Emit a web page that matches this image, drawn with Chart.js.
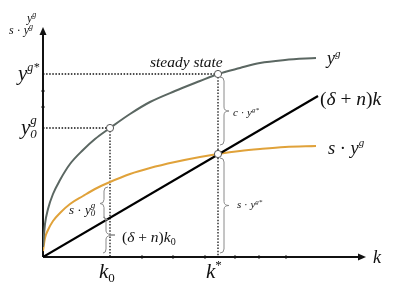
<!DOCTYPE html>
<html>
<head>
<meta charset="utf-8">
<script src="https://cdn.jsdelivr.net/npm/chart.js@4"></script>
<style>
  html, body { margin: 0; padding: 0; background: #fff; }
  canvas { display: block; }
</style>
</head>
<body>
<canvas id="solow" width="400" height="293"></canvas>
<script>
// capital per worker k and the output curves
const kOut = [0, 2, 5, 10, 17, 27, 40, 52, 67, 87, 107, 132, 157, 175, 197, 217, 242, 273]
const yOut = [10, 33, 48, 63, 77, 93, 107, 118, 129, 143, 155, 166, 176, 183, 189, 194, 197, 199]
const kSav = [0, 2, 5, 10, 17, 27, 40, 52, 67, 87, 107, 132, 157, 175, 197, 217, 242, 273]
const ySav = [6, 19, 27, 36, 44, 53, 61, 68, 75, 83, 89, 95, 100, 103, 106, 108, 110, 111]
const kLine = [0, 275]
const yLine = [0, 161]

// marked values
const k0 = 67
const kStar = 175
const y0 = 129
const yStar = 183
const syStar = 103
const sy0 = 75
const dk0 = 39

// little marks on the axes
const xMarks = [100, 131, 163, 193, 217, 244]
const yMarks = [151, 167]

const kMax = 322
const yMax = 229

const GREEN = '#5b6762'
const ORANGE = '#e0a23a'
const FONT = '"Liberation Serif", "DejaVu Serif", serif'

function pts(xs, ys) {
  return xs.map((x, i) => ({ x: x, y: ys[i] }))
}

function dotted(data) {
  return {
    data: data, showLine: true, borderColor: '#111', borderWidth: 1.3,
    borderDash: [1.5, 1.6], pointRadius: 0, order: 5
  }
}

// draw a row of text pieces, left to right
function run(ctx, x, y, parts) {
  for (const p of parts) {
    ctx.font = (p.i ? 'italic ' : '') + p.s + 'px ' + FONT
    if (p.stack) {
      // sub and sup at same x
      ctx.fillText(p.sub, x, y + p.dsub)
      const w1 = ctx.measureText(p.sub).width
      ctx.fillText(p.sup, x, y + p.dsup)
      x += Math.max(w1, ctx.measureText(p.sup).width)
    } else {
      ctx.fillText(p.t, x, y + (p.dy || 0))
      x += ctx.measureText(p.t).width
    }
  }
  return x
}

// vertical curly brace: ends at x, spine at x+s, tip at x+t
function brace(ctx, x, y1, y2, s, t) {
  const ym = (y1 + y2) / 2
  const r = 4
  ctx.beginPath()
  ctx.moveTo(x, y1)
  ctx.quadraticCurveTo(x + s, y1, x + s, y1 + r)
  ctx.lineTo(x + s, ym - r)
  ctx.quadraticCurveTo(x + s, ym, x + t, ym)
  ctx.quadraticCurveTo(x + s, ym, x + s, ym + r)
  ctx.lineTo(x + s, y2 - r)
  ctx.quadraticCurveTo(x + s, y2, x, y2)
  ctx.stroke()
}

const decor = {
  id: 'decor',
  beforeDatasetsDraw(chart) {
    const ctx = chart.ctx
    const xs = chart.scales.x
    const ys = chart.scales.y
    const ox = xs.getPixelForValue(0)
    const oy = ys.getPixelForValue(0)
    const right = xs.getPixelForValue(kMax)
    const top = ys.getPixelForValue(yMax)
    ctx.save()
    ctx.strokeStyle = '#111'
    ctx.fillStyle = '#111'
    ctx.lineWidth = 2
    ctx.beginPath()
    ctx.moveTo(ox, oy)
    ctx.lineTo(right - 4, oy)
    ctx.moveTo(ox, oy)
    ctx.lineTo(ox, top + 4)
    ctx.stroke()
    // arrow heads
    ctx.beginPath()
    ctx.moveTo(right + 1, oy)
    ctx.lineTo(right - 7, oy - 3.5)
    ctx.lineTo(right - 7, oy + 3.5)
    ctx.closePath()
    ctx.fill()
    ctx.beginPath()
    ctx.moveTo(ox, top - 1)
    ctx.lineTo(ox - 3.5, top + 7)
    ctx.lineTo(ox + 3.5, top + 7)
    ctx.closePath()
    ctx.fill()
    // small marks
    for (const v of xMarks) {
      const px = xs.getPixelForValue(v)
      ctx.beginPath()
      ctx.moveTo(px + 2, oy)
      ctx.lineTo(px - 1.5, oy - 2)
      ctx.lineTo(px - 1.5, oy + 2)
      ctx.closePath()
      ctx.fill()
    }
    for (const v of yMarks) {
      const py = ys.getPixelForValue(v)
      ctx.beginPath()
      ctx.moveTo(ox, py - 2)
      ctx.lineTo(ox - 2, py + 1.5)
      ctx.lineTo(ox + 2, py + 1.5)
      ctx.closePath()
      ctx.fill()
    }
    ctx.restore()
  },
  afterDatasetsDraw(chart) {
    const ctx = chart.ctx
    const xs = chart.scales.x
    const ys = chart.scales.y
    const X = v => xs.getPixelForValue(v)
    const Y = v => ys.getPixelForValue(v)
    ctx.save()

    // braces
    ctx.strokeStyle = '#8a8a8a'
    ctx.lineWidth = 1
    brace(ctx, X(kStar) + 2, Y(yStar) + 3, Y(syStar) - 9, 4, 9)
    brace(ctx, X(kStar) + 2, Y(syStar) + 4, Y(0) - 4, 4, 9)
    brace(ctx, X(k0) - 2, Y(sy0) + 5, Y(dk0) + 2, -4, -8)
    brace(ctx, X(k0) - 7, Y(dk0) - 1, Y(0) - 4, 3, 12)

    // text
    ctx.fillStyle = '#111'
    ctx.textBaseline = 'alphabetic'
    run(ctx, 27, 22, [{ t: 'y', s: 12, i: true }, { t: 'g', s: 8, i: true, dy: -5 }])
    run(ctx, 9, 34, [{ t: 's', s: 12, i: true }, { t: ' · ', s: 12 },
      { t: 'y', s: 12, i: true }, { t: 'g', s: 8, i: true, dy: -5 }])
    run(ctx, 18, Y(yStar) + 6, [{ t: 'y', s: 21, i: true }, { t: 'g*', s: 12, i: true, dy: -9 }])
    run(ctx, 21, Y(y0) + 6, [{ t: 'y', s: 21, i: true },
      { stack: true, sub: '0', sup: 'g', s: 13, i: true, dsub: 4, dsup: -10 }])
    run(ctx, X(k0) - 11, 278, [{ t: 'k', s: 21, i: true }, { t: '0', s: 13, dy: 4 }])
    run(ctx, X(kStar) - 12, 278, [{ t: 'k', s: 21, i: true }, { t: '*', s: 13, dy: -9 }])
    run(ctx, 373, 263, [{ t: 'k', s: 18, i: true }])
    run(ctx, 150, 67, [{ t: 'steady state', s: 15.5, i: true }])
    run(ctx, 327, 64, [{ t: 'y', s: 18, i: true }, { t: 'g', s: 11, i: true, dy: -7 }])
    run(ctx, 320, 105, [{ t: '(', s: 19.5 }, { t: 'δ', s: 19.5, i: true }, { t: ' + ', s: 19.5 },
      { t: 'n', s: 19.5, i: true }, { t: ')', s: 19.5 }, { t: 'k', s: 19.5, i: true }])
    run(ctx, 328, 154, [{ t: 's', s: 18.5, i: true }, { t: ' · ', s: 18.5 },
      { t: 'y', s: 18.5, i: true }, { t: 'g', s: 11, i: true, dy: -8 }])
    run(ctx, 233, 116, [{ t: 'c', s: 11, i: true }, { t: ' · ', s: 11 },
      { t: 'y', s: 11, i: true }, { t: 'g*', s: 7, i: true, dy: -4 }])
    run(ctx, 237, 208, [{ t: 's', s: 11, i: true }, { t: ' · ', s: 11 },
      { t: 'y', s: 11, i: true }, { t: 'g*', s: 7, i: true, dy: -4 }])
    run(ctx, 69, 214, [{ t: 's', s: 13, i: true }, { t: ' · ', s: 13 },
      { t: 'y', s: 13, i: true }, { stack: true, sub: '0', sup: 'g', s: 9, i: true, dsub: 2, dsup: -6 }])
    run(ctx, 122, 242, [{ t: '(', s: 15.5 }, { t: 'δ', s: 15.5, i: true }, { t: ' + ', s: 15.5 },
      { t: 'n', s: 15.5, i: true }, { t: ')', s: 15.5 }, { t: 'k', s: 15.5, i: true },
      { t: '0', s: 10, dy: 3 }])
    ctx.restore()
  }
}

new Chart(document.getElementById('solow'), {
  type: 'scatter',
  data: {
    datasets: [
      {
        data: [{ x: k0, y: y0 }, { x: kStar, y: yStar }, { x: kStar, y: syStar }],
        pointRadius: 3.6, pointBackgroundColor: '#fff', pointBorderColor: '#555',
        pointBorderWidth: 1, order: 0
      },
      {
        data: pts(kOut, yOut), showLine: true, borderColor: GREEN, borderWidth: 2,
        pointRadius: 0, cubicInterpolationMode: 'monotone', order: 2
      },
      {
        data: pts(kSav, ySav), showLine: true, borderColor: ORANGE, borderWidth: 2,
        pointRadius: 0, cubicInterpolationMode: 'monotone', order: 3
      },
      {
        data: pts(kLine, yLine), showLine: true, borderColor: '#000', borderWidth: 2.2,
        pointRadius: 0, order: 1
      },
      dotted([{ x: 0, y: yStar }, { x: kStar, y: yStar }]),
      dotted([{ x: 0, y: y0 }, { x: k0, y: y0 }]),
      dotted([{ x: k0, y: y0 }, { x: k0, y: 0 }]),
      dotted([{ x: kStar, y: yStar }, { x: kStar, y: 0 }])
    ]
  },
  options: {
    responsive: false,
    animation: false,
    layout: { padding: { left: 43, right: 35, top: 28, bottom: 36 } },
    plugins: { legend: { display: false }, tooltip: { enabled: false } },
    scales: {
      x: { type: 'linear', display: false, min: 0, max: kMax },
      y: { type: 'linear', display: false, min: 0, max: yMax }
    }
  },
  plugins: [decor]
})
</script>
</body>
</html>
